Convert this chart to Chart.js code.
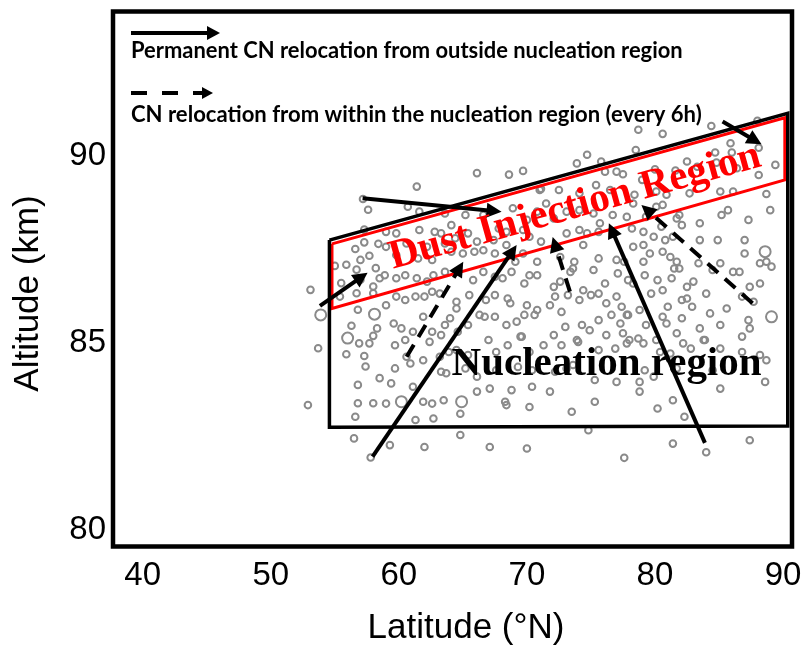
<!DOCTYPE html>
<html>
<head>
<meta charset="utf-8">
<script src="https://cdn.jsdelivr.net/npm/chart.js@4/dist/chart.umd.min.js"></script>
<style>
  html, body { margin: 0; padding: 0; background: #fff; }
  #wrap { width: 805px; height: 648px; }
</style>
</head>
<body>
<div id="wrap"><canvas id="c" width="805" height="648"></canvas></div>
<script>
// Axis ticks
const latTicks = [40, 50, 60, 70, 80, 90];
const altTicks = [80, 85, 90];

// Region outlines (latitude °N, altitude km), closed polygons
const nucleationLat = [54.58, 90.37, 90.37, 54.58, 54.58];
const nucleationAlt = [87.75, 91.14, 82.78, 82.75, 87.75];
const dustLat = [54.78, 90.14, 90.14, 54.78, 54.78];
const dustAlt = [87.65, 91.02, 89.36, 85.92, 87.65];

// CN relocation paths: [startLat, startAlt, endLat, endAlt]
const permanentMoves = [
  [57.17, 88.87, 68.02, 88.51],
  [53.84, 85.99, 57.56, 86.88],
  [57.95, 81.96, 69.20, 87.62],
  [83.90, 82.33, 76.40, 88.20],
  [85.28, 90.92, 88.32, 90.31]
];
const withinMoves = [
  [60.61, 84.63, 65.03, 87.17],
  [73.36, 86.37, 72.01, 87.83],
  [87.62, 86.06, 78.94, 88.69]
];

// Label anchors [lat, alt]
const dustLabelAt = [73.98, 88.36];
const nucleationLabelAt = [76.22, 84.14];

// Condensation nuclei positions [lat, alt]
const smallCN = [
  [60.7,88.64],[61.6,88.51],[63.6,88.46],[65.2,88.42],[66.6,88.42],[68.9,88.60],[70.0,88.29],[70.8,88.51],[71.5,88.73],[72.1,88.33],
  [73.1,88.51],[74.1,88.55],[75.2,88.46],[75.7,88.20],[76.7,88.42],[77.8,88.37],[78.3,88.73],[79.3,88.37],[80.1,88.64],[80.6,88.69],
  [81.7,88.33],[81.9,88.42],[83.5,88.20],[85.2,88.42],[85.7,88.55],[87.3,88.29],[89.0,88.55],
  [59.0,87.97],[59.8,87.93],[61.6,88.02],[62.8,87.97],[63.3,87.93],[64.1,88.15],[64.4,87.80],[65.4,87.93],[66.1,87.71],[67.4,87.75],
  [67.8,88.06],[68.4,87.97],[69.7,88.02],[70.2,87.84],[71.1,87.71],[73.1,87.93],[74.1,88.02],[74.7,87.93],[75.6,87.97],[76.7,87.93],
  [78.2,88.06],[79.1,87.97],[79.9,87.84],[80.5,88.11],[80.8,87.75],[81.4,87.84],[82.1,88.15],[83.5,87.75],[84.9,87.75],[87.0,87.75],
  [88.7,87.17],[89.1,87.04],
  [59.0,87.57],[59.8,87.35],[60.6,87.66],[61.5,87.26],[62.2,87.57],[62.6,87.22],[63.6,87.66],[64.1,87.44],[65.0,87.39],[65.9,87.44],
  [66.6,87.48],[67.5,87.39],[68.4,87.62],[69.1,87.17],[69.7,87.39],[70.8,87.17],[72.6,87.30],[73.7,87.17],[74.4,87.62],[75.6,87.26],
  [77.0,87.22],[77.6,87.17],[78.3,87.57],[79.1,87.17],[79.1,87.62],[79.6,87.39],[80.6,87.44],[81.2,87.30],[81.7,87.17],[83.4,87.13],
  [85.1,87.13],[87.0,87.39],[88.2,87.13],
  [58.9,86.81],[59.8,86.73],[60.5,86.81],[61.4,86.73],[62.2,86.64],[62.7,86.81],[63.6,86.90],[64.5,86.90],[65.8,86.68],[66.6,86.90],
  [67.5,86.77],[68.1,86.73],[68.8,86.90],[69.8,86.59],[70.2,86.81],[70.8,86.81],[72.1,86.50],[72.6,86.64],[73.4,86.90],[73.6,86.99],
  [75.2,86.95],[76.1,86.59],[77.1,86.86],[77.9,86.68],[78.3,86.59],[79.2,86.81],[80.2,86.68],[81.3,86.73],[81.5,86.99],[81.9,86.99],
  [82.5,86.50],[83.0,86.64],[84.5,86.95],[86.1,86.90],[86.6,86.90],[87.4,86.50],[88.2,86.59],
  [59.0,86.01],[59.8,86.24],[60.5,86.15],[61.3,86.24],[62.0,86.24],[62.6,86.37],[63.2,86.32],[64.5,86.10],[64.5,85.92],[65.5,86.28],
  [66.8,86.15],[67.5,86.28],[68.5,86.19],[68.7,86.06],[70.0,86.01],[70.8,85.88],[71.8,86.01],[72.2,86.24],[72.7,85.83],[73.2,86.28],
  [74.1,86.15],[74.4,86.41],[75.0,86.28],[75.6,86.32],[76.2,86.06],[77.0,86.24],[77.4,85.97],[77.9,85.75],[78.8,85.88],[79.7,86.32],
  [80.6,86.41],[81.0,85.97],[82.1,86.15],[82.5,86.19],[82.9,85.97],[84.0,86.32],[84.3,85.79],[85.6,85.92],[86.8,86.24],[87.7,86.10],
  [59.6,85.52],[60.2,85.39],[61.1,85.30],[61.9,85.70],[62.6,85.30],[63.3,85.21],[63.6,85.48],[64.0,85.66],[64.6,85.30],[65.4,85.48],
  [66.3,85.75],[66.7,85.70],[67.5,85.70],[68.4,85.48],[69.2,85.57],[69.5,85.17],[69.8,85.75],[70.6,85.75],[72.1,85.21],[73.0,85.43],
  [73.9,85.08],[74.3,85.48],[74.9,85.34],[75.6,85.61],[76.2,85.21],[76.6,85.75],[77.3,85.52],[77.5,85.26],[77.8,85.75],[78.7,85.12],
  [79.3,85.48],[80.6,85.70],[80.9,85.52],[81.7,85.26],[82.1,85.66],[83.5,85.39],[83.8,85.08],[85.1,85.48],[86.8,85.17],[87.3,85.61],
  [87.4,85.39],
  [59.7,84.94],[60.5,85.08],[60.6,84.63],[62.4,85.03],[63.2,84.63],[63.9,84.76],[64.5,84.81],[65.4,84.68],[67.0,85.08],[67.6,84.76],
  [68.5,84.94],[69.6,85.17],[70.2,84.76],[71.3,84.94],[72.7,84.94],[74.0,85.03],[75.6,84.81],[76.9,84.85],[77.8,84.99],[78.0,85.08],
  [79.1,84.99],[80.1,85.08],[80.4,84.76],[81.2,84.72],[82.2,84.99],[82.8,84.85],[83.9,85.08],[85.1,84.85],[86.8,84.76],[88.2,84.68],
  [88.7,84.54],
  [59.7,84.32],[60.9,84.45],[61.9,84.54],[63.3,84.23],[63.7,84.19],[65.2,84.32],[66.1,84.10],[67.6,84.27],[69.3,84.36],[70.4,84.27],
  [72.2,84.23],[73.1,84.32],[73.6,84.41],[75.3,84.01],[77.0,83.96],[78.8,83.96],[79.2,84.27],[79.9,84.10],[81.7,84.32],[84.5,84.27],
  [85.1,83.78],[88.6,83.96],[59.4,83.92],[61.1,83.83],
  [59.0,83.38],[61.9,83.43],[62.6,83.38],[63.5,83.47],[66.1,83.70],[67.1,83.78],[68.3,83.43],[68.4,83.34],[68.8,83.74],[70.2,83.29],
  [70.4,83.83],[71.8,83.70],[73.5,83.16],[75.3,83.43],[78.8,83.70],[80.2,83.25],[81.4,83.47],[82.3,83.03],[61.3,82.94],[62.7,82.98],
  [64.8,83.11],
  [64.8,82.54],[67.1,82.22],[70.0,82.18],[74.8,82.67],[81.4,82.31],[87.4,82.40],[62.0,82.22],[59.3,82.27],[77.6,81.93],[84.0,82.08],
  [57.2,88.85],[57.6,88.56],[57.3,88.03],[56.6,87.51],[57.3,87.69],[58.4,87.65],[55.0,87.06],[55.9,87.09],[57.0,87.22],[57.7,87.33],
  [56.7,86.96],[58.2,87.00],[55.5,86.60],[57.0,86.69],[58.5,86.73],[53.1,86.42],[55.4,86.24],[56.7,86.33],[58.0,86.33],[58.0,86.51],
  [56.8,85.89],[56.3,85.46],
  [58.3,85.39],[58.0,85.19],[56.9,84.99],[57.7,84.99],[53.7,84.86],[55.9,84.70],[57.3,84.65],[57.4,84.37],[58.5,84.06],[56.8,83.88],
  [52.9,83.34],[56.8,83.39],[58.0,83.39],[56.6,83.03],[56.5,82.45],[57.8,81.94],
  [66.1,89.54],[68.6,89.50],[69.7,89.60],[61.4,89.18],[71.1,89.12],
  [88.0,90.94],[84.4,90.80],[80.6,90.59],[78.7,90.70],[78.5,90.16],[85.9,90.34],[84.7,90.09],[86.0,90.09],[74.7,90.03],[73.9,89.80],
  [75.8,89.85],[88.1,90.22],[82.5,89.85],[84.8,89.82],[89.4,89.76],[76.1,89.58],[77.0,89.58],[77.5,89.51],[80.0,89.64],[81.6,89.61],
  [83.3,89.71],[86.4,89.67],[88.1,89.49],[79.0,89.36],[71.0,89.09],[72.5,89.09],[74.1,89.00],[75.4,89.22],[76.5,89.09],[78.4,88.96],
  [80.1,89.05],[80.9,88.96],[82.7,89.00],[85.1,89.05],[86.1,89.05],[88.7,88.98]
];
const largeCN = [
  [88.6,87.44],[89.1,85.70],[60.2,83.43],[64.9,83.43],[53.9,85.75],[58.1,85.77],[56.0,85.13]
];

const toXY = pairs => pairs.map(p => ({ x: p[0], y: p[1] }));
const zipXY = (xs, ys) => xs.map((v, i) => ({ x: v, y: ys[i] }));

function drawArrow(ctx, x0, y0, x1, y1, dashed, headLen, headHalf, dash) {
  const ang = Math.atan2(y1 - y0, x1 - x0);
  const c = Math.cos(ang), s = Math.sin(ang);
  const bx = x1 - headLen * c, by = y1 - headLen * s;
  ctx.save();
  ctx.strokeStyle = '#000';
  ctx.fillStyle = '#000';
  ctx.lineWidth = 4;
  ctx.lineCap = 'butt';
  ctx.setLineDash(dashed ? dash : []);
  ctx.beginPath();
  ctx.moveTo(x0, y0);
  ctx.lineTo(bx + 2 * c, by + 2 * s);
  ctx.stroke();
  ctx.setLineDash([]);
  ctx.beginPath();
  ctx.moveTo(x1, y1);
  ctx.lineTo(bx + headHalf * s, by - headHalf * c);
  ctx.lineTo(bx - headHalf * s, by + headHalf * c);
  ctx.closePath();
  ctx.fill();
  ctx.restore();
}

function fitFont(ctx, text, weight, family, target) {
  ctx.font = weight + ' 100px ' + family;
  const w = ctx.measureText(text).width;
  return 100 * target / w;
}

// keep the plot area fixed: no extra room for edge labels
function noEdgePadding(s) {
  s.paddingTop = 0; s.paddingBottom = 0; s.paddingLeft = 0; s.paddingRight = 0;
}

const overlay = {
  id: 'overlay',
  afterDatasetsDraw(chart) {
    const { ctx, scales: { x, y } } = chart;
    const px = v => x.getPixelForValue(v);
    const py = v => y.getPixelForValue(v);

    permanentMoves.forEach(m => drawArrow(ctx, px(m[0]), py(m[1]), px(m[2]), py(m[3]), false, 15, 7.5));
    withinMoves.forEach(m => drawArrow(ctx, px(m[0]), py(m[1]), px(m[2]), py(m[3]), true, 15, 7.5, [14, 9]));

    // Dust Injection Region label, following the band's slope
    const ang = Math.atan2(py(dustAlt[1]) - py(dustAlt[0]), px(dustLat[1]) - px(dustLat[0]));
    const dustText = 'Dust Injection Region';
    const serif = '"Liberation Serif", "DejaVu Serif", serif';
    const dustSize = fitFont(ctx, dustText, 'bold', serif, 384);
    ctx.save();
    ctx.translate(px(dustLabelAt[0]), py(dustLabelAt[1]));
    ctx.rotate(ang);
    ctx.font = 'bold ' + dustSize.toFixed(2) + 'px ' + serif;
    ctx.fillStyle = '#ff0000';
    ctx.textAlign = 'center';
    ctx.textBaseline = 'alphabetic';
    ctx.fillText(dustText, 0, 0);
    ctx.restore();

    const nucText = 'Nucleation region';
    const nucSize = fitFont(ctx, nucText, 'bold', serif, 310);
    ctx.save();
    ctx.font = 'bold ' + nucSize.toFixed(2) + 'px ' + serif;
    ctx.fillStyle = '#000';
    ctx.textAlign = 'center';
    ctx.textBaseline = 'alphabetic';
    ctx.fillText(nucText, px(nucleationLabelAt[0]), py(nucleationLabelAt[1]));
    ctx.restore();
  },
  afterDraw(chart) {
    const { ctx, chartArea: a } = chart;
    ctx.save();
    // plot frame
    ctx.strokeStyle = '#000';
    ctx.lineWidth = 4.5;
    ctx.strokeRect(a.left, a.top, a.right - a.left, a.bottom - a.top);

    // key
    const kx = a.left + 18;
    drawArrow(ctx, kx, a.top + 21.5, kx + 89, a.top + 21.5, false, 13, 7);
    drawArrow(ctx, kx, a.top + 81.5, kx + 82, a.top + 81.5, true, 11, 6, [16, 15]);
    const keyFamily = 'Lato, "Open Sans", sans-serif';
    const t1 = 'Permanent CN relocation from outside nucleation region';
    const t2 = 'CN relocation from within the nucleation region (every 6h)';
    const s1 = fitFont(ctx, t1, 'bold', keyFamily, 552);
    const s2 = fitFont(ctx, t2, 'bold', keyFamily, 571);
    ctx.fillStyle = '#000';
    ctx.textAlign = 'left';
    ctx.textBaseline = 'alphabetic';
    ctx.font = 'bold ' + s1.toFixed(2) + 'px ' + keyFamily;
    ctx.fillText(t1, kx, a.top + 46);
    ctx.font = 'bold ' + s2.toFixed(2) + 'px ' + keyFamily;
    ctx.fillText(t2, kx, a.top + 110);

    // axis titles
    ctx.font = '35px "Liberation Sans", Arial, sans-serif';
    ctx.textAlign = 'center';
    ctx.textBaseline = 'middle';
    ctx.fillText('Latitude (°N)', a.left + 353, 628);
    ctx.translate(28, a.top + 282);
    ctx.rotate(-Math.PI / 2);
    ctx.fillText('Altitude (km)', 0, 0);
    ctx.restore();
  }
};

const tickFont = { family: '"Liberation Sans", Arial, sans-serif', size: 33 };

new Chart(document.getElementById('c'), {
  type: 'scatter',
  data: {
    datasets: [
      {
        label: 'Nucleation region',
        data: zipXY(nucleationLat, nucleationAlt),
        showLine: true,
        borderColor: '#000',
        borderWidth: 3.5,
        borderJoinStyle: 'miter',
        pointRadius: 0,
        fill: false,
        order: 1
      },
      {
        label: 'Dust injection region',
        data: zipXY(dustLat, dustAlt),
        showLine: true,
        borderColor: '#ff0000',
        borderWidth: 3,
        borderJoinStyle: 'miter',
        pointRadius: 0,
        fill: false,
        order: 2
      },
      {
        label: 'CN',
        data: toXY(smallCN),
        pointStyle: 'circle',
        pointRadius: 3.3,
        pointBorderWidth: 2,
        pointBorderColor: '#8a8a8a',
        pointBackgroundColor: 'rgba(255,255,255,0)',
        order: 3
      },
      {
        label: 'CN large',
        data: toXY(largeCN),
        pointStyle: 'circle',
        pointRadius: 5.5,
        pointBorderWidth: 2,
        pointBorderColor: '#8a8a8a',
        pointBackgroundColor: 'rgba(255,255,255,0)',
        order: 4
      }
    ]
  },
  options: {
    responsive: false,
    animation: false,
    devicePixelRatio: 1,
    layout: { padding: { top: 11.5, right: 13, left: 0, bottom: 0 } },
    plugins: { legend: { display: false }, tooltip: { enabled: false } },
    scales: {
      x: {
        type: 'linear',
        min: 37.68,
        max: 90.70,
        grid: { display: false, drawTicks: false },
        border: { display: false },
        ticks: { padding: 10, font: tickFont, color: '#000', maxRotation: 0 },
        afterBuildTicks: s => { s.ticks = latTicks.map(v => ({ value: v })); },
        afterFit: s => { s.height = 101.5; noEdgePadding(s); }
      },
      y: {
        type: 'linear',
        min: 79.56,
        max: 93.86,
        grid: { display: false, drawTicks: false },
        border: { display: false },
        ticks: { padding: 7, font: tickFont, color: '#000' },
        afterBuildTicks: s => { s.ticks = altTicks.map(v => ({ value: v })); },
        afterFit: s => { s.width = 113; noEdgePadding(s); }
      }
    }
  },
  plugins: [overlay]
});
</script>
</body>
</html>
